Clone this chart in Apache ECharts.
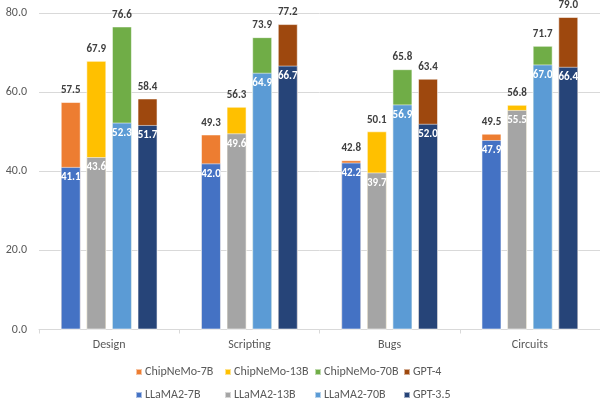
<!DOCTYPE html>
<html><head><meta charset="utf-8">
<script src="https://cdn.jsdelivr.net/npm/echarts@6/dist/echarts.min.js"></script>
<style>html,body{margin:0;padding:0;background:#fff}#c{width:600px;height:404px}</style>
</head><body><div id="c"></div>
<script>
var categories = ['Design', 'Scripting', 'Bugs', 'Circuits'];
var yTicks = [0, 20, 40, 60, 80];

var chipNeMo7B  = [57.5, 49.3, 42.8, 49.5];
var chipNeMo13B = [67.9, 56.3, 50.1, 56.8];
var chipNeMo70B = [76.6, 73.9, 65.8, 71.7];
var gpt4        = [58.4, 77.2, 63.4, 79.0];

var llama7B  = [41.1, 42.0, 42.2, 47.9];
var llama13B = [43.6, 49.6, 39.7, 55.5];
var llama70B = [52.3, 64.9, 56.9, 67.0];
var gpt35    = [51.7, 66.7, 52.0, 66.4];

var topNames = ['ChipNeMo-7B', 'ChipNeMo-13B', 'ChipNeMo-70B', 'GPT-4'];
var baseNames = ['LLaMA2-7B', 'LLaMA2-13B', 'LLaMA2-70B', 'GPT-3.5'];
var topData = [chipNeMo7B, chipNeMo13B, chipNeMo70B, gpt4];
var baseData = [llama7B, llama13B, llama70B, gpt35];
var topColors = ['#ED7D31', '#FFC000', '#70AD47', '#9E480E'];
var baseColors = ['#4472C4', '#A5A5A5', '#5B9BD5', '#264478'];

var cv = document.createElement('canvas').getContext('2d');
function w(font, txt) { cv.font = font; return cv.measureText(txt).width; }
function has(f) {
  var t = 'ChipNeMo-13B LLaMA2 0123456789';
  return w('40px "' + f + '", monospace', t) !== w('40px monospace', t) ||
         w('40px "' + f + '", serif', t) !== w('40px serif', t);
}
var FONT = 'Lato', K = 1, KB = 1;
if (has('Carlito')) { FONT = 'Carlito'; }
else {
  ['Roboto', 'Lato', 'Liberation Sans'].some(function (f) { if (has(f)) { FONT = f; return true; } return false; });
  K = 75 / w('12px "' + FONT + '"', 'ChipNeMo-13B');
  KB = 18.5 / w('bold 11px "' + FONT + '"', '41.1');
}
var F12 = Math.round(12 * K * 10) / 10;
var F11B = Math.round(11 * KB * 10) / 10;

var series = [];
topNames.forEach(function (n, i) {
  series.push({
    name: n, type: 'bar', xAxisIndex: 1, data: topData[i],
    barWidth: 20, barGap: '28%', z: 2,
    itemStyle: { color: topColors[i], borderColor: 'rgba(255,255,255,0.55)', borderWidth: 1 },
    label: { show: true, position: 'top', distance: 6, color: '#404040', fontWeight: 'bold',
      fontSize: F11B, fontFamily: FONT, formatter: function (p) { return p.value.toFixed(1); } }
  });
});
baseNames.forEach(function (n, i) {
  series.push({
    name: n, type: 'bar', xAxisIndex: 0, data: baseData[i],
    barWidth: 20, barGap: '28%', z: 3,
    itemStyle: { color: baseColors[i], borderColor: 'rgba(255,255,255,0.55)', borderWidth: 1 },
    label: { show: true, position: 'insideTop', distance: 5, color: '#fff', fontWeight: 'bold',
      fontSize: F11B, fontFamily: FONT, formatter: function (p) { return p.value.toFixed(1); } }
  });
});

var legendLefts = [135, 224, 314, 403];
var legends = legendLefts.map(function (l, i) {
  return {
    left: l, top: 365, orient: 'vertical', padding: 0, itemWidth: 6, itemHeight: 6, itemGap: 9,
    icon: 'rect', selectedMode: false, data: [topNames[i], baseNames[i]],
    textStyle: { color: '#595959', fontSize: F12, lineHeight: 14, fontFamily: FONT, padding: [0, 0, 0, -2] }
  };
});

var chart = echarts.init(document.getElementById('c'));
chart.setOption({
  animation: false,
  textStyle: { fontFamily: FONT },
  grid: { left: 39, right: -5, top: 13, bottom: 74.5, containLabel: false },
  legend: legends,
  xAxis: [
    { type: 'category', data: categories,
      axisLine: { lineStyle: { color: '#d9d9d9' } },
      axisTick: { show: true, length: 4, lineStyle: { color: '#d9d9d9' } },
      axisLabel: { color: '#595959', fontSize: F12, margin: 9, fontFamily: FONT } },
    { type: 'category', data: categories, show: false }
  ],
  yAxis: {
    type: 'value', min: yTicks[0], max: yTicks[yTicks.length - 1], interval: yTicks[1] - yTicks[0],
    axisLine: { show: false }, axisTick: { show: false },
    axisLabel: { color: '#595959', fontSize: F12, margin: 12, fontFamily: FONT,
      formatter: function (v) { return v.toFixed(1); } },
    splitLine: { lineStyle: { color: '#d9d9d9' } }
  },
  series: series
});
</script></body></html>
